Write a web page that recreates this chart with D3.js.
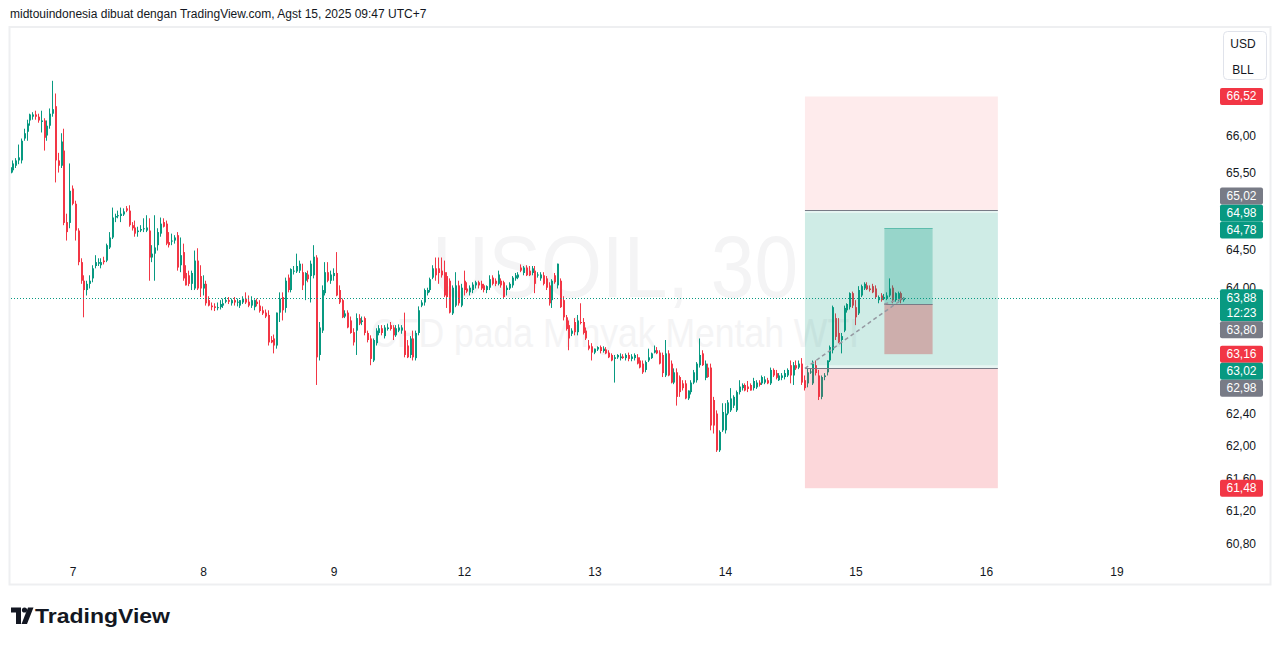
<!DOCTYPE html>
<html>
<head>
<meta charset="utf-8">
<script src="https://cdn.jsdelivr.net/npm/d3@7"></script>
<style>
  body { margin: 0; background: #fff; }
  svg { display: block; font-family: "Liberation Sans", Arial, sans-serif; }
</style>
</head>
<body>
<svg id="chart" width="1281" height="646"></svg>
<script>
// USOIL 30m candles, [open, high, low, close], one array per session label
const firstIndex = -22
const aug06 = [
  [65.50,65.63,65.46,65.58],[65.54,65.67,65.51,65.63],[65.60,65.70,65.57,65.67],[65.67,65.88,65.62,65.71],
  [65.67,65.96,65.63,65.93],[65.96,66.09,65.93,66.03],[66.05,66.21,65.93,66.16],[66.20,66.29,66.13,66.28],
  [66.25,66.31,66.21,66.28],[66.28,66.33,66.21,66.25],[66.25,66.29,66.17,66.20],[66.18,66.33,66.04,66.20],
  [66.20,66.23,65.80,65.97],[66.00,66.20,65.93,66.13],[66.13,66.36,66.09,66.29],[66.29,66.73,66.25,66.35],
  [66.39,66.56,65.38,65.67],[65.67,65.77,65.51,65.60],[65.60,66.03,65.57,65.92],[65.80,66.09,64.82,64.85],
  [64.86,64.97,64.62,64.73],[64.85,65.63,64.78,65.27]
]
const aug07 = [
  [65.30,65.34,65.08,65.10],[65.10,65.14,64.62,64.75],[64.75,64.78,64.30,64.34],[64.34,64.39,64.06,64.10],
  [64.10,64.17,63.63,63.98],[63.98,64.10,63.91,64.06],[64.06,64.17,64.00,64.10],[64.13,64.30,64.08,64.26],
  [64.29,64.43,64.26,64.34],[64.32,64.39,64.29,64.34],[64.30,64.39,64.26,64.34],[64.36,64.41,64.31,64.34],
  [64.36,64.58,64.34,64.56],[64.53,64.73,64.51,64.66],[64.66,65.05,64.64,64.92],[64.92,64.97,64.86,64.94],
  [64.94,65.01,64.91,64.95],[64.94,65.05,64.86,64.97],[64.96,65.04,64.94,65.00],[65.04,65.07,64.99,65.01],
  [65.01,65.08,64.80,64.82],[64.82,64.86,64.75,64.78],[64.79,64.88,64.67,64.71],[64.73,64.80,64.67,64.75],
  [64.75,64.82,64.73,64.77],[64.77,64.91,64.73,64.78],[64.75,64.95,64.73,64.79],[64.75,64.91,64.10,64.40],
  [64.40,64.56,64.34,64.45],[64.45,64.95,64.10,64.53],[64.56,64.78,64.49,64.73],[64.71,64.92,64.67,64.84],
  [64.86,64.91,64.79,64.80],[64.84,64.88,64.56,64.58],[64.60,64.73,64.53,64.56],[64.61,64.71,64.56,64.62],
  [64.62,64.69,64.58,64.66],[64.69,64.73,64.23,64.27],[64.30,64.66,64.21,64.43],[64.47,64.58,64.10,64.13],
  [64.20,64.30,64.04,64.04],[64.17,64.23,64.03,64.06],[64.06,64.23,63.98,64.20],[64.00,64.49,63.98,64.36],
  [64.36,64.52,63.98,64.00],[64.16,64.30,63.89,64.00]
]
const aug08 = [
  [64.00,64.17,63.91,64.06],[64.06,64.10,63.78,63.81],[63.85,63.90,63.77,63.78],[63.78,63.82,63.72,63.76],
  [63.77,63.81,63.71,63.75],[63.75,63.82,63.72,63.76],[63.76,63.85,63.73,63.80],[63.78,63.87,63.75,63.81],
  [63.83,63.89,63.81,63.85],[63.85,63.89,63.80,63.83],[63.81,63.87,63.78,63.85],[63.85,63.89,63.78,63.82],
  [63.82,63.87,63.77,63.83],[63.78,63.85,63.75,63.85],[63.82,63.90,63.80,63.87],[63.87,63.95,63.80,63.82],
  [63.83,63.91,63.76,63.78],[63.78,63.90,63.75,63.85],[63.76,63.86,63.72,63.85],[63.83,63.87,63.77,63.80],
  [63.78,63.85,63.69,63.71],[63.72,63.77,63.66,63.68],[63.69,63.73,63.62,63.64],[63.66,63.72,63.27,63.31],
  [63.34,63.39,63.30,63.31],[63.36,63.41,63.17,63.27],[63.27,63.69,63.23,63.69],[63.69,63.95,63.57,63.87],
  [63.89,63.95,63.59,63.72],[63.75,64.14,63.69,64.10],[64.14,64.18,63.95,63.98],[63.98,64.26,63.95,64.25],
  [64.22,64.29,64.18,64.23],[64.22,64.45,64.20,64.29],[64.23,64.36,64.20,64.32],[64.21,64.32,63.98,64.04],
  [64.10,64.21,63.85,64.20],[64.18,64.23,64.08,64.12],[64.16,64.36,63.82,64.32],[64.17,64.56,64.13,64.41],
  [64.40,64.43,62.77,63.12],[63.15,63.57,63.08,63.50],[63.46,64.04,63.43,63.98],[63.94,64.34,63.91,64.21],
  [64.21,64.34,64.08,64.10],[64.10,64.23,64.06,64.18]
]
const aug09 = [
  [64.16,64.26,64.10,64.20],[64.20,64.47,63.90,63.91],[63.98,64.04,63.80,63.82],[63.85,63.87,63.62,63.63],
  [63.64,63.72,63.62,63.68],[63.69,63.72,63.49,63.50],[63.59,63.64,63.42,63.43],[63.44,63.49,63.27,63.31],
  [63.46,63.68,63.15,63.62],[63.62,63.67,63.53,63.55],[63.57,63.64,63.53,63.59],[63.62,63.64,63.40,63.43],
  [63.43,63.46,63.31,63.34],[63.36,63.40,63.02,63.10],[63.08,63.36,63.06,63.34],[63.30,63.49,63.27,63.46],
  [63.43,63.53,63.40,63.49],[63.49,63.53,63.40,63.43],[63.39,63.53,63.36,63.50],[63.48,63.55,63.46,63.50],
  [63.53,63.57,63.46,63.48],[63.50,63.53,63.34,63.40],[63.40,63.53,63.38,63.49],[63.46,63.54,63.44,63.50],
  [63.46,63.53,63.42,63.50],[63.46,63.69,63.12,63.15],[63.27,63.34,63.11,63.12],[63.15,63.39,63.11,63.36],
  [63.36,63.46,63.08,63.12],[63.11,63.46,63.08,63.43],[63.43,63.77,63.40,63.72],[63.78,63.85,63.76,63.82],
  [63.82,64.00,63.78,63.98],[63.94,64.01,63.91,63.98],[63.98,64.14,63.95,64.12],[64.14,64.30,64.12,64.26],
  [64.26,64.40,64.10,64.17],[64.26,64.40,64.06,64.20],[64.23,64.40,64.14,64.17],[64.21,64.36,63.89,63.91],
  [64.16,64.21,63.75,63.89],[64.10,64.13,63.68,63.69],[63.68,64.04,63.66,64.01],[63.78,64.21,63.76,64.04],
  [64.04,64.10,63.78,63.81],[63.78,64.06,63.76,64.01]
]
const aug12 = [
  [64.10,64.23,63.91,63.98],[64.00,64.08,63.94,63.96],[63.95,64.04,63.91,64.01],[63.98,64.08,63.94,64.05],
  [64.04,64.10,64.00,64.08],[64.08,64.10,64.00,64.04],[64.06,64.10,63.98,64.00],[64.04,64.06,63.95,63.98],
  [63.98,64.04,63.94,64.03],[64.01,64.17,63.98,64.12],[64.14,64.17,64.04,64.06],[64.10,64.13,64.03,64.06],
  [64.06,64.23,64.04,64.18],[64.10,64.13,64.01,64.04],[64.08,64.10,63.87,63.89],[63.98,64.04,63.91,64.01],
  [64.00,64.08,63.98,64.06],[64.04,64.16,64.01,64.14],[64.13,64.20,64.10,64.17],[64.14,64.21,64.12,64.18],
  [64.27,64.31,64.21,64.23],[64.20,64.29,64.17,64.27],[64.27,64.30,64.16,64.17],[64.23,64.29,64.16,64.17],
  [64.20,64.29,64.17,64.26],[64.23,64.29,63.94,64.06],[64.17,64.21,64.14,64.18],[64.13,64.21,64.10,64.18],
  [64.17,64.21,64.04,64.06],[64.13,64.16,63.98,64.01],[64.04,64.08,63.78,63.81],[63.85,64.12,63.75,64.10],
  [64.17,64.20,64.06,64.08],[64.04,64.32,64.00,64.32],[64.10,64.13,63.75,63.76],[63.85,63.90,63.59,63.63],
  [63.63,63.66,63.46,63.48],[63.53,63.59,63.21,63.36],[63.42,63.49,63.39,63.46],[63.57,63.62,63.40,63.44],
  [63.44,63.66,63.40,63.59],[63.57,63.81,63.54,63.56],[63.57,63.62,63.41,63.43],[63.46,63.50,63.34,63.36],
  [63.27,63.34,63.21,63.23],[63.26,63.30,63.08,63.18]
]
const aug13 = [
  [63.18,63.23,63.16,63.23],[63.22,63.26,63.20,63.25],[63.25,63.27,63.17,63.20],[63.20,63.26,63.18,63.23],
  [63.22,63.25,63.16,63.17],[63.18,63.21,63.11,63.12],[63.15,63.17,63.07,63.08],[63.10,63.15,62.80,63.12],
  [63.12,63.16,63.10,63.15],[63.11,63.17,63.08,63.13],[63.13,63.16,63.10,63.11],[63.11,63.17,63.08,63.15],
  [63.15,63.18,63.07,63.10],[63.10,63.16,63.07,63.13],[63.11,63.17,63.08,63.15],[63.12,63.16,63.03,63.04],
  [63.08,63.12,62.98,62.99],[63.04,63.08,62.91,62.93],[62.96,63.08,62.93,63.06],[63.08,63.23,63.06,63.12],
  [63.11,63.18,63.10,63.17],[63.18,63.27,63.17,63.21],[63.21,63.25,63.16,63.17],[63.18,63.21,63.03,63.04],
  [63.15,63.18,62.87,62.92],[62.89,63.34,62.87,63.17],[63.17,63.21,62.88,62.89],[63.04,63.08,62.79,62.80],
  [62.80,62.98,62.78,62.93],[62.93,62.98,62.51,62.62],[62.87,62.89,62.62,62.68],[62.79,62.83,62.70,62.73],
  [62.79,62.83,62.59,62.60],[62.60,62.70,62.58,62.70],[62.68,62.83,62.65,62.80],[62.80,62.96,62.78,62.93],
  [62.83,63.06,62.80,63.04],[63.02,63.36,62.99,63.15],[63.17,63.21,63.01,63.02],[62.86,63.08,62.83,63.04],
  [62.99,63.04,62.86,62.87],[62.99,63.04,62.20,62.26],[62.58,62.62,62.16,62.26],[62.41,62.45,61.93,61.95],
  [61.95,62.20,61.93,62.18],[62.20,62.54,62.18,62.43]
]
const aug14 = [
  [62.20,62.54,62.16,62.41],[62.41,62.58,62.39,62.55],[62.45,62.73,62.43,62.60],[62.51,62.64,62.48,62.62],
  [62.45,62.70,62.43,62.68],[62.68,62.83,62.65,62.75],[62.73,62.79,62.70,62.77],[62.77,62.79,62.69,62.70],
  [62.75,62.82,62.68,62.72],[62.77,62.79,62.70,62.70],[62.73,62.86,62.70,62.82],[62.74,62.83,62.72,62.80],
  [62.80,62.83,62.75,62.77],[62.79,62.89,62.77,62.87],[62.80,62.88,62.78,62.84],[62.83,62.86,62.78,62.79],
  [62.79,62.99,62.77,62.96],[62.96,62.98,62.87,62.89],[62.92,62.96,62.84,62.86],[62.83,62.92,62.82,62.89],
  [62.86,62.92,62.83,62.89],[62.87,62.96,62.84,62.92],[62.89,62.98,62.87,62.96],[63.02,63.08,62.79,62.89],
  [62.89,63.06,62.77,63.02],[63.02,63.08,62.96,62.98],[62.99,63.08,62.97,63.04],[63.04,63.11,62.77,62.80],
  [62.83,62.89,62.70,62.73],[62.79,62.98,62.74,62.93],[62.93,62.98,62.91,62.94],[62.79,63.08,62.77,63.04],
  [63.02,63.08,62.89,62.92],[62.89,62.96,62.58,62.62],[62.62,62.89,62.59,62.87],[62.87,62.92,62.83,62.89],
  [62.93,63.08,62.89,63.08],[63.08,63.27,63.06,63.25],[63.21,63.78,63.17,63.76],[63.62,63.68,63.34,63.38],
  [63.43,63.62,63.30,63.31],[63.34,63.43,63.17,63.39],[63.46,63.78,63.44,63.75],[63.72,63.81,63.69,63.80],
  [63.76,63.95,63.73,63.94],[63.94,63.96,63.75,63.78]
]
const aug15 = [
  [63.76,63.85,63.53,63.63],[63.68,64.03,63.66,63.98],[63.91,64.05,63.89,64.03],[64.00,64.08,63.98,64.06],
  [64.04,64.08,63.98,63.99],[64.00,64.04,63.96,63.98],[64.03,64.06,63.94,63.95],[64.00,64.04,63.87,63.89],
  [63.85,63.91,63.81,63.89],[63.91,63.94,63.83,63.85],[63.87,63.93,63.85,63.89],[63.87,63.95,63.85,63.91],
  [63.91,64.13,63.89,64.00],[64.01,64.04,63.81,63.85],[63.85,63.95,63.83,63.94],[63.85,63.96,63.82,63.94],
  [63.94,63.96,63.81,63.85],[63.85,63.89,63.83,63.88]
]

const dayLabels = ['7', '8', '9', '12', '13', '14', '15', '16', '19']
const dayIndex = [0, 46, 92, 138, 184, 230, 276, 322, 368]
const priceTicks = [66, 65.5, 65, 64.5, 64, 63.6, 63.2, 62.8, 62.4, 62, 61.6, 61.2, 60.8]

// position tools: [entry, target, stop], drawn between bar indices
const toolSpan = [258, 326]
const longTrade = [62.98, 64.98, 61.48]
const shortTrade = [65.02, 63.02, 66.52]
const smallSpan = [286, 303]
const smallTrade = [63.80, 64.78, 63.16]
const lastPrice = 63.88
const countdown = '12:23'

const headerText = 'midtouindonesia dibuat dengan TradingView.com, Agst 15, 2025 09:47 UTC+7'
const watermark = ['USOIL, 30', 'CFD pada Minyak Mentah WTI']

const upColor = '#089981'
const downColor = '#f23645'
const textColor = '#131722'

const candles = [aug06, aug07, aug08, aug09, aug12, aug13, aug14, aug15]
  .flat()
  .map((d, k) => ({ i: firstIndex + k, o: d[0], h: d[1], l: d[2], c: d[3] }))

const svg = d3.select('#chart')
const plot = { left: 11, right: 1219, top: 28, bottom: 562 }

const x = d3.scaleLinear().domain([dayIndex[0], dayIndex[dayIndex.length - 1]]).range([73, 1117])
const y = d3.scaleLog().domain([66, 60.8]).range([135.5, 543.5])
const fmt = v => d3.format('.2f')(v).replace('.', ',')

svg.append('rect').attr('width', 1281).attr('height', 646).attr('fill', '#fff')

svg.append('text')
  .attr('x', 10).attr('y', 18)
  .attr('font-size', 12).attr('fill', textColor)
  .text(headerText)

svg.append('rect')
  .attr('x', 9.5).attr('y', 27).attr('width', 1261).attr('height', 557.5)
  .attr('fill', 'none').attr('stroke', '#eeeff1').attr('stroke-width', 2)

svg.append('defs').append('clipPath').attr('id', 'plotClip')
  .append('rect')
  .attr('x', plot.left).attr('y', plot.top)
  .attr('width', plot.right - plot.left).attr('height', plot.bottom - plot.top)

const plotG = svg.append('g').attr('clip-path', 'url(#plotClip)')

// watermark
plotG.append('text')
  .attr('x', 615).attr('y', 297)
  .attr('text-anchor', 'middle').attr('font-size', 88)
  .attr('textLength', 366).attr('lengthAdjust', 'spacingAndGlyphs')
  .attr('fill', '#f4f4f5')
  .text(watermark[0])
plotG.append('text')
  .attr('x', 615).attr('y', 347)
  .attr('text-anchor', 'middle').attr('font-size', 40)
  .attr('textLength', 488).attr('lengthAdjust', 'spacingAndGlyphs')
  .attr('fill', '#f4f4f5')
  .text(watermark[1])

// candles
const candleG = plotG.append('g')
const left = d => Math.round(x(d.i) - 1)
const color = d => (d.c >= d.o ? upColor : downColor)

candleG.selectAll('line.wick')
  .data(candles)
  .join('line')
  .attr('class', 'wick')
  .attr('x1', d => left(d) + 0.5).attr('x2', d => left(d) + 0.5)
  .attr('y1', d => y(d.h)).attr('y2', d => y(d.l))
  .attr('stroke', color).attr('stroke-width', 1)

candleG.selectAll('rect.body')
  .data(candles)
  .join('rect')
  .attr('class', 'body')
  .attr('x', left)
  .attr('width', 2)
  .attr('y', d => y(Math.max(d.o, d.c)))
  .attr('height', d => Math.max(1, Math.abs(y(d.o) - y(d.c))))
  .attr('fill', color)

// position tools
const toolG = plotG.append('g')
const zone = (span, p1, p2, fill) => {
  toolG.append('rect')
    .attr('x', x(span[0])).attr('width', x(span[1]) - x(span[0]))
    .attr('y', y(Math.max(p1, p2))).attr('height', Math.abs(y(p1) - y(p2)))
    .attr('fill', fill)
}
const hline = (span, p, stroke) => {
  toolG.append('line')
    .attr('x1', x(span[0])).attr('x2', x(span[1]))
    .attr('y1', Math.round(y(p)) + 0.5).attr('y2', Math.round(y(p)) + 0.5)
    .attr('stroke', stroke).attr('stroke-width', 1)
}

zone(toolSpan, shortTrade[0], shortTrade[2], 'rgba(242,54,69,0.1)')
zone(toolSpan, shortTrade[0], shortTrade[1], 'rgba(8,153,129,0.1)')
zone(toolSpan, longTrade[0], longTrade[1], 'rgba(8,153,129,0.1)')
zone(toolSpan, longTrade[0], longTrade[2], 'rgba(242,54,69,0.2)')
zone(smallSpan, smallTrade[0], smallTrade[1], 'rgba(8,153,129,0.28)')
zone(smallSpan, smallTrade[0], smallTrade[2], 'rgba(200,60,62,0.35)')
hline(toolSpan, shortTrade[0], '#787b86')
hline(toolSpan, longTrade[0], '#787b86')
hline(smallSpan, smallTrade[0], '#787b86')
hline(smallSpan, smallTrade[1], 'rgba(8,153,129,0.45)')

const lastBar = candles[candles.length - 1]
toolG.append('line')
  .attr('x1', x(toolSpan[0])).attr('y1', y(longTrade[0]))
  .attr('x2', x(lastBar.i)).attr('y2', y(lastBar.c))
  .attr('stroke', '#9598a1').attr('stroke-width', 1.5).attr('stroke-dasharray', '4,3')
toolG.append('line')
  .attr('x1', x(smallSpan[0])).attr('y1', y(smallTrade[0]))
  .attr('x2', x(lastBar.i)).attr('y2', y(lastBar.c))
  .attr('stroke', '#9598a1').attr('stroke-width', 1.5).attr('stroke-dasharray', '4,3')

// last price dotted line
svg.append('line')
  .attr('x1', plot.left).attr('x2', 1220)
  .attr('y1', Math.round(y(lastPrice)) + 0.5).attr('y2', Math.round(y(lastPrice)) + 0.5)
  .attr('stroke', upColor).attr('stroke-width', 1).attr('stroke-dasharray', '1,2')

// badges, placed in priority order and pushed apart when they collide
const badges = [
  { value: lastPrice, color: upColor, sub: countdown },
  { value: shortTrade[2], color: downColor },
  { value: longTrade[1], color: upColor },
  { value: smallTrade[1], color: upColor },
  { value: smallTrade[2], color: downColor },
  { value: longTrade[2], color: downColor },
  { value: shortTrade[1], color: upColor },
  { value: shortTrade[0], color: '#787b86' },
  { value: smallTrade[0], color: '#787b86' },
  { value: longTrade[0], color: '#787b86' }
]
const badgeH = 17
const placed = []
badges.forEach(b => {
  const h = b.sub ? badgeH * 2 - 2 : badgeH
  let top = y(b.value) - badgeH / 2
  for (let n = 0; n < 20; n++) {
    const hit = placed.find(p => top < p.top + p.h - 0.01 && top + h > p.top + 0.01)
    if (!hit) break
    top = b.value > hit.b.value ? hit.top - h : hit.top + hit.h
  }
  placed.push({ top, h, b })
})

// price axis labels, hidden where a badge covers them
const covered = v => placed.some(p => {
  const overlap = Math.min(y(v) + 7, p.top + p.h) - Math.max(y(v) - 7, p.top)
  return overlap > 8
})
svg.append('g').selectAll('text')
  .data(priceTicks.filter(v => !covered(v)))
  .join('text')
  .attr('x', 1241).attr('y', d => y(d) + 4)
  .attr('text-anchor', 'middle').attr('font-size', 12).attr('fill', textColor)
  .text(fmt)

const badgeG = svg.append('g')
placed.forEach(p => {
  badgeG.append('rect')
    .attr('x', 1220).attr('y', p.top).attr('width', 43).attr('height', p.h)
    .attr('rx', 2).attr('fill', p.b.color)
  badgeG.append('text')
    .attr('x', 1241.5).attr('y', p.top + badgeH / 2 + 4)
    .attr('text-anchor', 'middle').attr('font-size', 12).attr('fill', '#fff')
    .text(fmt(p.b.value))
  if (p.b.sub) {
    badgeG.append('text')
      .attr('x', 1241.5).attr('y', p.top + badgeH / 2 + 4 + 15)
      .attr('text-anchor', 'middle').attr('font-size', 12).attr('fill', '#fff')
      .text(p.b.sub)
  }
})

// currency / unit box
svg.append('rect')
  .attr('x', 1223.5).attr('y', 31.5).attr('width', 43).attr('height', 48)
  .attr('rx', 4).attr('fill', '#fff').attr('stroke', '#e0e3eb')
svg.append('text').attr('x', 1243).attr('y', 48).attr('text-anchor', 'middle')
  .attr('font-size', 12).attr('fill', textColor).text('USD')
svg.append('text').attr('x', 1243).attr('y', 74).attr('text-anchor', 'middle')
  .attr('font-size', 12).attr('fill', textColor).text('BLL')

// time axis
svg.append('g').selectAll('text')
  .data(dayLabels)
  .join('text')
  .attr('x', (d, k) => x(dayIndex[k]))
  .attr('y', 576)
  .attr('text-anchor', 'middle').attr('font-size', 12).attr('fill', textColor)
  .text(d => d)

// TradingView logo
const logo = svg.append('g').attr('fill', textColor)
logo.append('path').attr('d', 'M11 607.5 H21 V624 H16 V612.5 H11 Z')
logo.append('circle').attr('cx', 24.5).attr('cy', 610).attr('r', 2.6)
logo.append('path').attr('d', 'M28 607.5 H33.5 L27 624 H21.5 Z')
logo.append('text')
  .attr('x', 35).attr('y', 623)
  .attr('font-size', 21).attr('font-weight', 700)
  .attr('textLength', 135).attr('lengthAdjust', 'spacingAndGlyphs')
  .text('TradingView')
</script>
</body>
</html>
